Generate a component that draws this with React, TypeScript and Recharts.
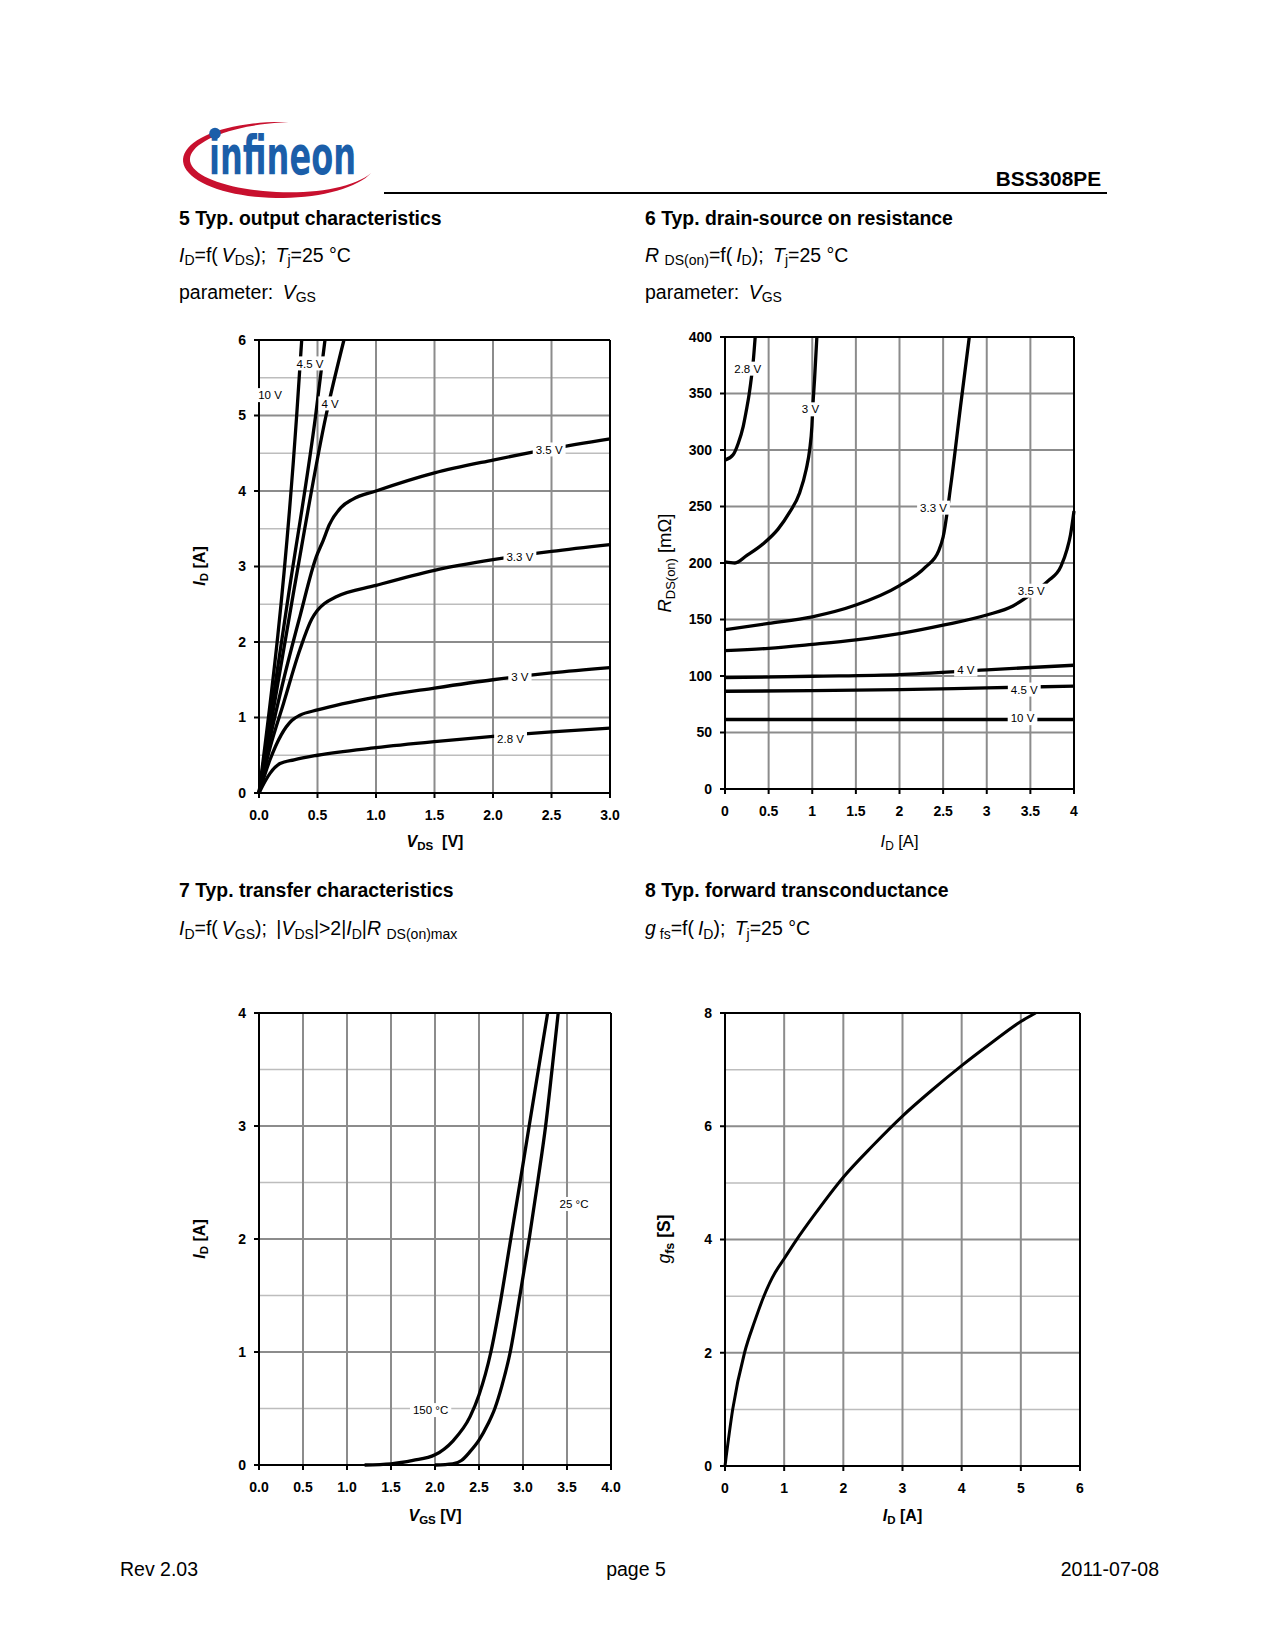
import React from 'react';
import { LineChart, Line, XAxis, YAxis, CartesianGrid, ReferenceLine, ReferenceDot } from 'recharts';

const FONT = '"Liberation Sans", Arial, Helvetica, sans-serif';
const TAG_FS = 11.5;

// ---- 5 Typ. output characteristics: V_DS [V] -> I_D [A], parameter V_GS
const outXTicks = [0, 0.5, 1, 1.5, 2, 2.5, 3];
const outYTicks = [0, 1, 2, 3, 4, 5, 6];
const outYMinor = [0.5, 1.5, 2.5, 3.5, 4.5, 5.5];
const out10V = [[0, 0], [0.322, 5], [0.365, 6]];
const out45V = [[0, 0], [0.25, 2.6], [0.484, 5], [0.564, 6]];
const out4V = [[0, 0], [0.3, 2.7], [0.573, 5], [0.726, 6]];
const out35V = [[0, 0], [0.094, 0.72], [0.21, 1.5], [0.35, 2.34], [0.49, 3.13], [0.55, 3.35], [0.6, 3.55], [0.7, 3.78], [0.8, 3.89], [1.0, 4.0], [1.5, 4.24], [2.0, 4.41], [2.5, 4.56], [3.0, 4.69]];
const out33V = [[0, 0], [0.094, 0.6], [0.21, 1.19], [0.35, 1.9], [0.45, 2.3], [0.5, 2.42], [0.56, 2.51], [0.66, 2.6], [1.0, 2.75], [1.5, 2.95], [2.0, 3.09], [2.5, 3.2], [3.0, 3.29]];
const out3V = [[0, 0], [0.094, 0.44], [0.19, 0.77], [0.28, 0.96], [0.35, 1.03], [0.5, 1.1], [1.0, 1.27], [1.5, 1.39], [2.0, 1.5], [2.5, 1.59], [3.0, 1.66]];
const out28V = [[0, 0], [0.094, 0.26], [0.18, 0.39], [0.3, 0.44], [0.5, 0.5], [1.0, 0.6], [1.5, 0.68], [2.0, 0.75], [2.5, 0.81], [3.0, 0.86]];
const outTags = [
  { text: '10 V', x: 0.094, y: 5.27 },
  { text: '4.5 V', x: 0.436, y: 5.69 },
  { text: '4 V', x: 0.607, y: 5.16 },
  { text: '3.5 V', x: 2.48, y: 4.55 },
  { text: '3.3 V', x: 2.23, y: 3.13 },
  { text: '3 V', x: 2.23, y: 1.54 },
  { text: '2.8 V', x: 2.15, y: 0.72 },
];

// ---- 6 Typ. drain-source on resistance: I_D [A] -> R_DS(on) [mOhm]
const rdsXTicks = [0, 0.5, 1, 1.5, 2, 2.5, 3, 3.5, 4];
const rdsYTicks = [0, 50, 100, 150, 200, 250, 300, 350, 400];
const rds28 = [[0, 291], [0.095, 296], [0.152, 306], [0.209, 321], [0.247, 336], [0.278, 350], [0.304, 365], [0.323, 378], [0.346, 400]];
const rds3 = [[0, 201], [0.114, 200], [0.247, 206.5], [0.437, 217], [0.608, 230], [0.741, 245], [0.855, 262], [0.931, 283], [0.97, 300], [0.996, 321], [1.007, 339], [1.026, 362], [1.053, 400]];
const rds33 = [[0, 141], [0.5, 146.5], [1.0, 152.4], [1.5, 162.8], [2.0, 180], [2.3, 196.5], [2.45, 211], [2.5, 223], [2.59, 270], [2.7, 339], [2.8, 400]];
const rds35 = [[0, 122.5], [0.5, 124.5], [1.0, 128], [1.5, 132], [2.0, 137.5], [2.5, 145], [3.0, 154], [3.3, 162], [3.5, 172], [3.7, 184], [3.85, 197], [3.92, 212], [3.96, 225], [4.0, 246]];
const rds4 = [[0, 98.5], [1, 99.8], [2, 101.3], [3, 105.5], [4, 109.5]];
const rds45 = [[0, 86.5], [1, 87], [2, 88], [3, 89.5], [4, 91]];
const rds10 = [[0, 61.5], [2, 61.5], [4, 61.5]];
const rdsTags = [
  { text: '2.8 V', x: 0.26, y: 372 },
  { text: '3 V', x: 0.98, y: 336 },
  { text: '3.3 V', x: 2.39, y: 249 },
  { text: '3.5 V', x: 3.51, y: 175.5 },
  { text: '4 V', x: 2.76, y: 105.7 },
  { text: '4.5 V', x: 3.43, y: 88 },
  { text: '10 V', x: 3.41, y: 62.7 },
];

// ---- 7 Typ. transfer characteristics: V_GS [V] -> I_D [A]
const trXTicks = [0, 0.5, 1, 1.5, 2, 2.5, 3, 3.5, 4];
const trYTicks = [0, 1, 2, 3, 4];
const trYMinor = [0.5, 1.5, 2.5, 3.5];
const tr150 = [[1.2, 0], [1.5, 0.01], [1.75, 0.04], [2.0, 0.09], [2.2, 0.21], [2.4, 0.43], [2.5, 0.62], [2.635, 1.0], [2.745, 1.45], [2.85, 1.95], [2.96, 2.47], [3.07, 3.0], [3.175, 3.5], [3.28, 4.0]];
const tr25 = [[2.0, 0], [2.2, 0.01], [2.3, 0.04], [2.4, 0.12], [2.5, 0.22], [2.6, 0.36], [2.68, 0.5], [2.76, 0.7], [2.855, 1.0], [2.965, 1.5], [3.07, 2.0], [3.17, 2.52], [3.257, 3.0], [3.33, 3.5], [3.4, 4.0]];
const trTags = [
  { text: '150 °C', x: 1.95, y: 0.486 },
  { text: '25 °C', x: 3.58, y: 2.31 },
];

// ---- 8 Typ. forward transconductance: I_D [A] -> g_fs [S]
const gfsXTicks = [0, 1, 2, 3, 4, 5, 6];
const gfsYTicks = [0, 2, 4, 6, 8];
const gfsYMinor = [1, 3, 5, 7];
const gfs25 = [[0, 0], [0.13, 1.0], [0.33, 2.0], [0.5, 2.55], [0.65, 2.98], [0.75, 3.22], [0.85, 3.42], [1.0, 3.66], [1.2, 3.98], [1.5, 4.42], [2.0, 5.1], [2.5, 5.66], [3.0, 6.18], [3.5, 6.64], [4.0, 7.07], [4.5, 7.47], [5.0, 7.85], [5.25, 8.0]];

type Tag = { text: string; x: number; y: number };

const toPts = (a: number[][]) => a.map(([x, y]) => ({ x, y }));
const fix1 = (v: number) => v.toFixed(1);

const charW: Record<string, number> = { '.': 0.278, ' ': 0.278, V: 0.667, C: 0.722, '°': 0.4 };
const textWidth = (s: string, fs: number) => s.split('').reduce((w, c) => w + (charW[c] ?? 0.556), 0) * fs;

const tagLabel = (text: string) => (props: any) => {
  const vb = props.viewBox ?? {};
  const cx = (vb.x ?? props.x ?? 0) + (vb.width ?? 0) / 2;
  const cy = (vb.y ?? props.y ?? 0) + (vb.height ?? 0) / 2;
  const w = textWidth(text, TAG_FS) + 6;
  return (
    <g>
      <rect x={cx - w / 2} y={cy - 7} width={w} height={14} fill="#fff" />
      <text x={cx} y={cy} dy="0.36em" textAnchor="middle" fontSize={TAG_FS} fontFamily={FONT} fill="#000">
        {text}
      </text>
    </g>
  );
};

interface PanelProps {
  left: number;
  top: number;
  plotW: number;
  plotH: number;
  xDomain: [number, number];
  xTicks: number[];
  xFmt?: (v: number) => string;
  yDomain: [number, number];
  yTicks: number[];
  yMinor?: number[];
  series: number[][][];
  tags: Tag[];
  strokeWidth?: number;
}

const Panel: React.FC<PanelProps> = ({ left, top, plotW, plotH, xDomain, xTicks, xFmt, yDomain, yTicks, yMinor, series, tags, strokeWidth = 3.3 }) => {
  const YW = 60, MT = 10, MR = 15, XH = 40;
  const tickStyle = { fontSize: 14, fontWeight: 700, fill: '#000', fontFamily: FONT };
  const axisStyle = { stroke: '#000', strokeWidth: 2 };
  return (
    <div style={{ position: 'absolute', left: left - YW, top: top - MT }}>
      <LineChart width={YW + plotW + MR} height={MT + plotH + XH} margin={{ top: MT, right: MR, left: 0, bottom: 0 }}>
        {yMinor && yMinor.length > 0 && (
          <CartesianGrid horizontalValues={yMinor} vertical={false} stroke="#bdbdbd" strokeWidth={1.5} />
        )}
        <CartesianGrid horizontalValues={yTicks} verticalValues={xTicks} stroke="#8c8c8c" strokeWidth={2} />
        <XAxis
          type="number"
          dataKey="x"
          domain={xDomain}
          ticks={xTicks}
          interval={0}
          tickFormatter={xFmt}
          height={XH}
          tickSize={5}
          tickMargin={12}
          axisLine={axisStyle}
          tickLine={axisStyle}
          tick={tickStyle}
        />
        <YAxis
          type="number"
          domain={yDomain}
          ticks={yTicks}
          interval={0}
          width={YW}
          tickSize={5}
          tickMargin={8}
          axisLine={axisStyle}
          tickLine={axisStyle}
          tick={tickStyle}
        />
        <ReferenceLine y={yDomain[1]} stroke="#000" strokeWidth={2} />
        <ReferenceLine x={xDomain[1]} stroke="#000" strokeWidth={2} />
        {series.map((s, i) => (
          <Line
            key={i}
            data={toPts(s)}
            dataKey="y"
            type="monotone"
            stroke="#000"
            strokeWidth={strokeWidth}
            dot={false}
            activeDot={false}
            isAnimationActive={false}
          />
        ))}
        {tags.map((t, i) => (
          <ReferenceDot key={'tag' + i} x={t.x} y={t.y} r={0} fill="none" stroke="none" label={tagLabel(t.text)} />
        ))}
      </LineChart>
    </div>
  );
};

const Sub: React.FC<{ children: React.ReactNode; s?: number }> = ({ children, s = 0.72 }) => (
  <span style={{ fontSize: `${s}em`, position: 'relative', top: '0.28em' }}>{children}</span>
);

const Txt: React.FC<{ x: number; y: number; size: number; bold?: boolean; align?: 'left' | 'center' | 'right'; rotate?: boolean; children: React.ReactNode }> = ({
  x, y, size, bold, align = 'left', rotate, children,
}) => {
  const tx = align === 'left' ? '0' : align === 'center' ? '-50%' : '-100%';
  return (
    <div
      style={{
        position: 'absolute',
        left: x,
        top: y,
        fontSize: size,
        lineHeight: `${size}px`,
        fontWeight: bold ? 700 : 400,
        fontFamily: FONT,
        whiteSpace: 'nowrap',
        color: '#000',
        transform: `translate(${tx}, -50%)${rotate ? ' rotate(-90deg)' : ''}`,
        transformOrigin: rotate ? '50% 50%' : undefined,
      }}
    >
      {children}
    </div>
  );
};

const Logo: React.FC = () => {
  // red swoosh drawn as a crescent between two ellipses
  const ox = 10, oy = 10;
  const cx = 110 + ox, cy = 50 + oy, rx = 97, ry = 38;
  const a0 = 275, a1 = 20, n = 60;
  const outer: string[] = [];
  const inner: string[] = [];
  for (let i = 0; i <= n; i++) {
    const t = i / n;
    const th = ((a0 - ((a0 - a1 + 360) % 360) * t) * Math.PI) / 180;
    const w = 7.5 * Math.pow(Math.sin(Math.PI * t), 0.9);
    outer.push(`${(cx + rx * Math.cos(th)).toFixed(2)},${(cy + ry * Math.sin(th)).toFixed(2)}`);
    inner.push(`${(cx + (rx - w) * Math.cos(th)).toFixed(2)},${(cy + (ry - w) * Math.sin(th)).toFixed(2)}`);
  }
  const d = 'M' + outer.join(' L') + ' L' + inner.reverse().join(' L') + ' Z';
  return (
    <svg style={{ position: 'absolute', left: 170 - ox, top: 110 - oy, overflow: 'visible' }} width={240} height={120}>
      <path d={d} fill="#c8102e" />
      <text
        x={39 + ox}
        y={63.5 + oy}
        fontFamily='"Liberation Sans Narrow", "DejaVu Sans Condensed", Arial, sans-serif'
        fontWeight={700}
        fontSize={54}
        fill="#1b5ea9"
        textLength={147}
        lengthAdjust="spacingAndGlyphs"
      >
        infineon
      </text>
      <circle cx={45 + ox} cy={23.5 + oy} r={5.8} fill="#1b5ea9" />
    </svg>
  );
};

const App: React.FC = () => {
  return (
    <div style={{ position: 'absolute', left: 0, top: 0, width: 1275, height: 1650, background: '#fff', overflow: 'hidden', fontFamily: FONT }}>
      <Logo />
      <Txt x={1101} y={178.5} size={20.8} bold align="right">BSS308PE</Txt>
      <div style={{ position: 'absolute', left: 384, top: 191.5, width: 723, height: 2, background: '#000' }} />

      {/* 5 */}
      <Txt x={179} y={219} size={19.4} bold>5 Typ. output characteristics</Txt>
      <Txt x={179} y={256.5} size={19.5}>
        <i>I</i><Sub>D</Sub>=f(&thinsp;<i>V</i><Sub>DS</Sub>);&thinsp; <i>T</i><Sub>j</Sub>=25 °C
      </Txt>
      <Txt x={179} y={293.5} size={19.5}>
        parameter:&thinsp; <i>V</i><Sub>GS</Sub>
      </Txt>
      <Panel
        left={259}
        top={340}
        plotW={351}
        plotH={453}
        xDomain={[0, 3]}
        xTicks={outXTicks}
        xFmt={fix1}
        yDomain={[0, 6]}
        yTicks={outYTicks}
        yMinor={outYMinor}
        series={[out10V, out45V, out4V, out35V, out33V, out3V, out28V]}
        tags={outTags}
      />
      <Txt x={435} y={842} size={16} bold align="center">
        <i>V</i><Sub>DS</Sub> &nbsp;[V]
      </Txt>
      <Txt x={200} y={566} size={16} bold align="center" rotate>
        <i>I</i><Sub>D</Sub> [A]
      </Txt>

      {/* 6 */}
      <Txt x={645} y={219} size={19.4} bold>6 Typ. drain-source on resistance</Txt>
      <Txt x={645} y={256.5} size={19.5}>
        <i>R</i> <Sub>DS(on)</Sub>=f(&thinsp;<i>I</i><Sub>D</Sub>);&thinsp; <i>T</i><Sub>j</Sub>=25 °C
      </Txt>
      <Txt x={645} y={293.5} size={19.5}>
        parameter:&thinsp; <i>V</i><Sub>GS</Sub>
      </Txt>
      <Panel
        left={725}
        top={337}
        plotW={349}
        plotH={452}
        xDomain={[0, 4]}
        xTicks={rdsXTicks}
        yDomain={[0, 400]}
        yTicks={rdsYTicks}
        series={[rds28, rds3, rds33, rds35, rds4, rds45, rds10]}
        tags={rdsTags}
      />
      <Txt x={899.5} y={842} size={16.5} align="center">
        <i>I</i><Sub>D</Sub> [A]
      </Txt>
      <Txt x={666} y={563} size={18.5} align="center" rotate>
        <i>R</i><Sub s={0.7}>DS(on)</Sub> [mΩ]
      </Txt>

      {/* 7 */}
      <Txt x={179} y={891} size={19.4} bold>7 Typ. transfer characteristics</Txt>
      <Txt x={179} y={930} size={19.5}>
        <i>I</i><Sub>D</Sub>=f(&thinsp;<i>V</i><Sub>GS</Sub>);&thinsp; |<i>V</i><Sub>DS</Sub>|&gt;2|<i>I</i><Sub>D</Sub>|<i>R</i> <Sub>DS(on)max</Sub>
      </Txt>
      <Panel
        left={259}
        top={1013}
        plotW={352}
        plotH={452}
        xDomain={[0, 4]}
        xTicks={trXTicks}
        xFmt={fix1}
        yDomain={[0, 4]}
        yTicks={trYTicks}
        yMinor={trYMinor}
        series={[tr150, tr25]}
        tags={trTags}
      />
      <Txt x={435} y={1516} size={16} bold align="center">
        <i>V</i><Sub>GS</Sub> [V]
      </Txt>
      <Txt x={200} y={1239} size={16} bold align="center" rotate>
        <i>I</i><Sub>D</Sub> [A]
      </Txt>

      {/* 8 */}
      <Txt x={645} y={891} size={19.4} bold>8 Typ. forward transconductance</Txt>
      <Txt x={645} y={930} size={19.5}>
        <i>g</i><Sub> fs</Sub>=f(&thinsp;<i>I</i><Sub>D</Sub>);&thinsp; <i>T</i><Sub>j</Sub>=25 °C
      </Txt>
      <Panel
        left={725}
        top={1013}
        plotW={355}
        plotH={453}
        xDomain={[0, 6]}
        xTicks={gfsXTicks}
        yDomain={[0, 8]}
        yTicks={gfsYTicks}
        yMinor={gfsYMinor}
        series={[gfs25]}
        tags={[]}
        strokeWidth={3}
      />
      <Txt x={902.5} y={1516} size={16} bold align="center">
        <i>I</i><Sub>D</Sub> [A]
      </Txt>
      <Txt x={666} y={1239} size={17.5} bold align="center" rotate>
        <i style={{ fontWeight: 400 }}>g</i><Sub>fs</Sub> [S]
      </Txt>

      {/* footer */}
      <Txt x={120} y={1570} size={19.5}>Rev 2.03</Txt>
      <Txt x={636} y={1570} size={19.5} align="center">page 5</Txt>
      <Txt x={1159} y={1570} size={19.5} align="right">2011-07-08</Txt>
    </div>
  );
};

export default App;
